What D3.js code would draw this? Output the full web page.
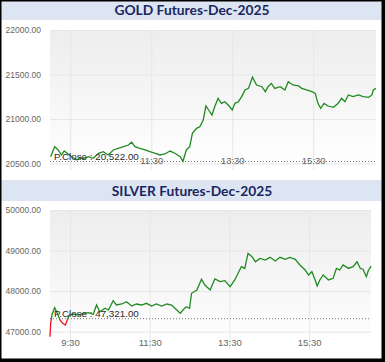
<!DOCTYPE html>
<html>
<head>
<meta charset="utf-8">
<script src="https://cdn.jsdelivr.net/npm/d3@7"></script>
<style>
body { margin: 0; background: #fff; }
svg { display: block; font-family: "Liberation Sans", Arial, sans-serif; }
.title { font-family: Lato, "Open Sans", sans-serif; font-weight: bold; font-size: 13.8px; fill: #1a2760; }
.yax text { font-size: 8.5px; fill: #666; }
.xax text { font-size: 9.5px; fill: #666; }
.pclose { font-size: 9.8px; fill: #2a2a2a; }
</style>
</head>
<body>
<svg id="chart" width="385" height="362"></svg>
<script>
// gold
const goldTimes = ['09:01','09:07','09:12','09:17','09:21','09:25','09:32','09:40','09:45','09:49','09:57',
  '10:04','10:12','10:19','10:26','10:34','10:41','10:49','10:56','11:01','11:06','11:13','11:21','11:28',
  '11:36','11:43','11:50','11:58','12:05','12:13','12:17','12:22','12:27','12:31','12:37','12:42','12:47',
  '12:51','12:55','13:00','13:04','13:09','13:14','13:19','13:24','13:30','13:34','13:39','13:44','13:49',
  '13:54','14:00','14:06','14:14','14:19','14:23','14:28','14:33','14:41','14:48','14:53','15:00','15:08',
  '15:13','15:20','15:28','15:33','15:37','15:41','15:46','15:52','16:00','16:07','16:12','16:17','16:22',
  '16:29','16:37','16:44','16:52','16:57','16:59','17:03'];
const goldPrices = [20576,20690,20652,20596,20640,20618,20576,20539,20570,20547,20576,
  20558,20615,20633,20596,20652,20671,20689,20708,20740,20689,20671,20652,20633,
  20615,20596,20607,20640,20615,20576,20525,20652,20689,20839,20895,20913,20989,
  21146,21101,21045,21138,21232,21176,21194,21157,21101,21176,21194,21251,21326,
  21344,21470,21382,21363,21307,21363,21400,21344,21363,21326,21419,21382,21371,
  21344,21326,21307,21288,21176,21120,21176,21146,21131,21176,21232,21194,21270,
  21251,21270,21251,21244,21270,21326,21344];
const goldClose = 20522;
const goldYTicks = [20500, 21000, 21500, 22000];

// silver
const silverTimes = ['09:00','09:01','09:03','09:07','09:11','09:15','09:19','09:23','09:25','09:29','09:35',
  '09:43','09:50','09:58','10:05','10:10','10:15','10:23','10:28','10:35','10:40','10:48','10:55','11:03',
  '11:10','11:18','11:25','11:33','11:40','11:48','11:56','12:03','12:08','12:16','12:20','12:25','12:30',
  '12:33','12:41','12:48','12:53','13:01','13:08','13:16','13:23','13:31','13:38','13:43','13:48','13:53',
  '13:58','14:04','14:09','14:16','14:24','14:31','14:39','14:46','14:54','15:01','15:09','15:16','15:24',
  '15:29','15:34','15:39','15:42','15:46','15:51','15:59','16:06','16:11','16:16','16:21','16:29','16:36',
  '16:42','16:47','16:51','16:56','16:59','17:03'];
const silverPrices = [46877,47207,47420,47592,47453,47288,47207,47165,47247,47411,47436,
  47411,47453,47468,47424,47658,47493,47577,47535,47764,47658,47683,47740,47633,
  47683,47658,47700,47633,47683,47633,47683,47658,47577,47453,47535,47617,47577,
  47947,48028,48292,48151,48028,48300,48233,48258,48109,48275,48440,48602,48560,
  48932,48849,48725,48808,48767,48833,48742,48833,48783,48833,48783,48644,48520,
  48398,48478,48275,48126,48275,48398,48275,48316,48560,48520,48644,48560,48602,
  48725,48560,48540,48356,48510,48618];
const silverClose = 47321;
const silverYTicks = [47000, 48000, 49000, 50000];

const timeTicks = ['09:30', '11:30', '13:30', '15:30'];
const goldTickLabels = ['', '11:30', '13:30', '15:30'];
const silverTickLabels = ['9:30', '11:30', '13:30', '15:30'];
const sessionStart = '09:00', sessionEnd = '17:03';

const parseTime = d3.timeParse('%H:%M');
const svg = d3.select('#chart');
const defs = svg.append('defs');

function drawPanel(p) {
    let g = svg.append('g');
    // title bar
    g.append('rect')
        .attr('x', 0).attr('y', p.barTop)
        .attr('width', 385).attr('height', p.barH)
        .attr('fill', '#dde5f3');
    g.append('text')
        .attr('class', 'title')
        .attr('x', 192).attr('y', p.barTop + p.barH / 2 + 5)
        .attr('text-anchor', 'middle')
        .text(p.title);

    let x = d3.scaleTime()
        .domain([parseTime(sessionStart), parseTime(sessionEnd)])
        .range([p.left, p.right]);
    let y = d3.scaleLinear()
        .domain([p.yTicks[0], p.yTicks[p.yTicks.length - 1]])
        .range([p.yBottom, p.yTop]);

    // plot background, grey fading to white
    let bg = defs.append('linearGradient')
        .attr('id', p.id + 'bg').attr('x1', 0).attr('x2', 0).attr('y1', 0).attr('y2', 1);
    bg.append('stop').attr('offset', 0).attr('stop-color', '#ededed');
    bg.append('stop').attr('offset', 0.45).attr('stop-color', '#f5f5f5');
    bg.append('stop').attr('offset', 1).attr('stop-color', '#ffffff');
    g.append('rect')
        .attr('x', p.left).attr('y', p.yTop)
        .attr('width', p.right - p.left).attr('height', p.bgBottom - p.yTop)
        .attr('fill', `url(#${p.id}bg)`);

    // y axis + horizontal grid
    let yAxis = d3.axisLeft(y)
        .tickValues(p.yTicks)
        .tickFormat(d3.format('.2f'))
        .tickSize(-(p.right - p.left))
        .tickPadding(9);
    let ya = g.append('g').attr('class', 'yax')
        .attr('transform', `translate(${p.left},0)`)
        .call(yAxis);
    ya.select('.domain').remove();
    ya.selectAll('line').attr('stroke', '#e6e6e6');

    // x axis + vertical grid
    let xAxis = d3.axisBottom(x)
        .tickValues(timeTicks.map(parseTime))
        .tickFormat((d, i) => p.tickLabels[i])
        .tickSize(-(p.gridBottom - p.yTop));
    let xa = g.append('g').attr('class', 'xax')
        .attr('transform', `translate(0,${p.gridBottom})`)
        .call(xAxis);
    xa.select('.domain').remove();
    xa.selectAll('line').attr('stroke', '#e6e6e6');
    xa.selectAll('text').attr('y', p.labelY - p.gridBottom).attr('dy', 0);

    // previous close
    g.append('line')
        .attr('x1', p.left).attr('x2', p.right)
        .attr('y1', y(p.close)).attr('y2', y(p.close))
        .attr('stroke', '#777').attr('stroke-dasharray', '1,2');

    // price line, red below previous close
    let lg = defs.append('linearGradient')
        .attr('id', p.id + 'ln')
        .attr('gradientUnits', 'userSpaceOnUse')
        .attr('x1', 0).attr('x2', 0)
        .attr('y1', p.yTop).attr('y2', p.bgBottom);
    let f = (y(p.close) - p.yTop) / (p.bgBottom - p.yTop);
    lg.append('stop').attr('offset', 0).attr('stop-color', '#1f8a1f');
    lg.append('stop').attr('offset', f).attr('stop-color', '#1f8a1f');
    lg.append('stop').attr('offset', f).attr('stop-color', '#e8141c');
    lg.append('stop').attr('offset', 1).attr('stop-color', '#e8141c');

    let data = p.times.map((t, i) => ({ t: parseTime(t), v: p.prices[i] }));
    let line = d3.line()
        .x(d => x(d.t))
        .y(d => y(d.v));
    g.append('path')
        .datum(data)
        .attr('d', line)
        .attr('fill', 'none')
        .attr('stroke', `url(#${p.id}ln)`)
        .attr('stroke-width', 1.3);

    g.append('text')
        .attr('class', 'pclose')
        .attr('x', p.left + 4).attr('y', y(p.close) - 1.5)
        .text('P.Close : ' + d3.format(',.2f')(p.close));
}

drawPanel({
    id: 'gold', title: 'GOLD Futures-Dec-2025',
    barTop: 0, barH: 20,
    left: 50, right: 376, yTop: 30, yBottom: 163.5,
    bgBottom: 168, gridBottom: 170, labelY: 164,
    yTicks: goldYTicks, tickLabels: goldTickLabels,
    times: goldTimes, prices: goldPrices, close: goldClose
});
drawPanel({
    id: 'silver', title: 'SILVER Futures-Dec-2025',
    barTop: 180, barH: 21,
    left: 50, right: 371, yTop: 210, yBottom: 331.7,
    bgBottom: 347, gridBottom: 350, labelY: 346,
    yTicks: silverYTicks, tickLabels: silverTickLabels,
    times: silverTimes, prices: silverPrices, close: silverClose
});

// outer frame
svg.append('rect').attr('x', 0).attr('y', 0).attr('width', 385).attr('height', 1.5).attr('fill', '#000');
svg.append('rect').attr('x', 0).attr('y', 0).attr('width', 1.5).attr('height', 362).attr('fill', '#000');
svg.append('rect').attr('x', 381.5).attr('y', 0).attr('width', 3.5).attr('height', 362).attr('fill', '#000');
svg.append('rect').attr('x', 0).attr('y', 358.5).attr('width', 385).attr('height', 3.5).attr('fill', '#000');
</script>
</body>
</html>
